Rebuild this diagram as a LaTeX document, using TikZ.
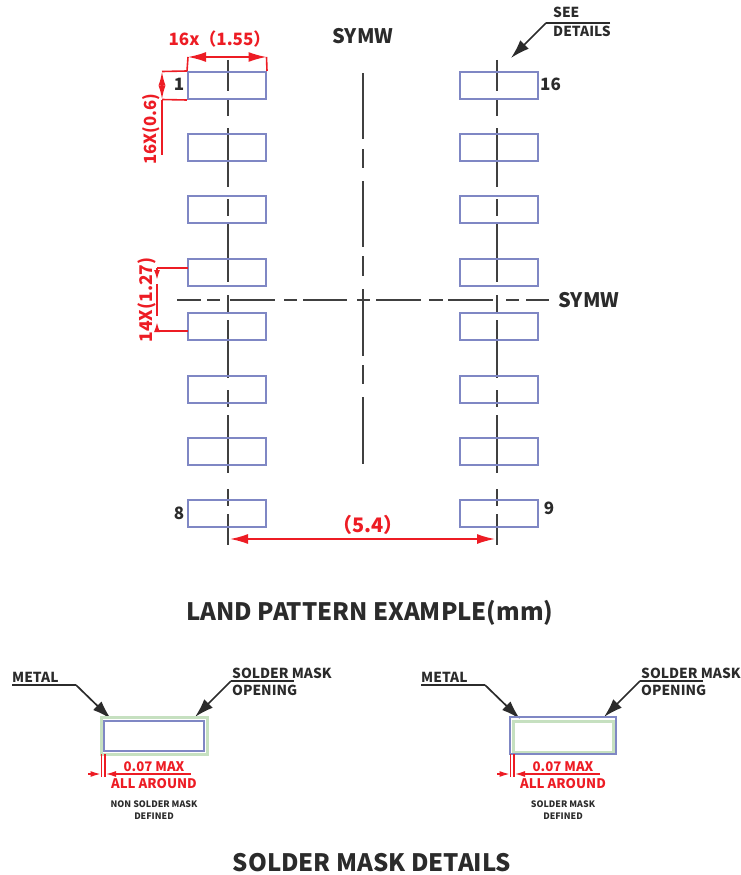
\documentclass[tikz,border=0pt]{standalone}
\usepackage{fontspec}
\setmainfont{Noto Sans CJK SC}
\usetikzlibrary{arrows.meta}
\definecolor{padblue}{HTML}{7F87C4}
\definecolor{dimred}{HTML}{ED1C24}
\definecolor{ink}{HTML}{2B2B2B}
\definecolor{maskgreen}{HTML}{C6E0C0}
\tikzset{
  padbox/.style={draw=padblue,line width=2pt,rectangle,inner sep=0pt,minimum width=78pt,minimum height=27pt},
  centerline/.style={draw=ink!90,line width=1.7pt},
  dimline/.style={draw=dimred,line width=1.6pt},
  bigdim/.style={dimline,{Latex[length=18pt,width=10pt]}-{Latex[length=18pt,width=10pt]}},
  smalltip/.style={dimline,-{Latex[length=10pt,width=6pt]}},
  leader/.style={draw=ink,line width=1.7pt},
  leadertip/.style={leader,-{Latex[length=19pt,width=12pt]}},
  lab/.style={inner sep=0pt,text=ink,font=\bfseries\fontsize{13.8}{14}\selectfont},
  redlab/.style={inner sep=0pt,text=dimred,font=\bfseries\fontsize{13.2}{14}\selectfont},
  rotlab/.style={inner sep=0pt,text=dimred,rotate=90,anchor=base,font=\bfseries\fontsize{17.5}{18}\selectfont},
  tinylab/.style={inner sep=0pt,text=ink,font=\bfseries\fontsize{8.9}{9}\selectfont},
  numlab/.style={inner sep=0pt,text=ink,font=\bfseries\fontsize{17}{17}\selectfont},
  symlab/.style={inner sep=0pt,text=ink,font=\bfseries\fontsize{20}{20}\selectfont},
  titlelab/.style={inner sep=0pt,text=ink,font=\bfseries\fontsize{24}{24}\selectfont},
}
\begin{document}
\begin{tikzpicture}[x=1pt,y=-1pt]
\useasboundingbox (0,0) rectangle (741,875);
% centre lines
\foreach \a/\b in {60/91,99/116,128/187,199/216,224/282,295/312,320/378,390/407,415/473,489/506,514/545}{
  \draw[centerline] (228,\a)--(228,\b);
  \draw[centerline] (497,\a)--(497,\b);
}
\foreach \a/\b in {73/139,149/168,181/247,256/276,289/356,365/384,397/464}{
  \draw[centerline] (363,\a)--(363,\b);
}
\foreach \a/\b in {177/201,207/220,230/275,284/297,303/347,357/370,376/421,429/443,448/493,506/519,526/549}{
  \draw[centerline,line width=2pt] (\a,300)--(\b,300);
}
% pads
\foreach \n/\y in {1/85.5,2/147.5,3/209.5,4/272,5/326.5,6/389,7/451,8/513.5}{
  \node[padbox] (l\n) at (227,\y) {};
  \node[padbox] (r\n) at (498.5,\y) {};
}
% pad numbers
\node[numlab,anchor=base] (n1) at (179,90) {1};
\node[numlab,anchor=base] (n16) at (550.5,90) {16};
\node[numlab,anchor=base] (n8) at (179,519) {8};
\node[numlab,anchor=base] (n9) at (549,514) {9};
% SYMW
\node[symlab,anchor=base] (s1) at (363,44) {SYMW};
\node[symlab,anchor=base] (s2) at (589,307) {SYMW};
% see details
\node[lab,anchor=base west] (see) at (553,18) {SEE};
\node[lab,anchor=base west] (det) at (553,37) {DETAILS};
\coordinate (seeEnd) at (610,23);
\coordinate (seeKnee) at (546,23);
\coordinate (seeTip) at (511,58);
\draw[leader] (seeEnd)--(seeKnee);
\draw[leadertip] (seeKnee)--(seeTip);
% 16x 1.55
\coordinate (wa) at (188,57);
\coordinate (wb) at (266.5,57);
\draw[dimline] (wa)--(l1.north west);
\draw[dimline] (wb)--(l1.north east);
\draw[bigdim] (wa)--(wb);
\node[redlab,anchor=base,font=\bfseries\fontsize{17}{17}\selectfont] (w) at (219.5,46) {16x（1.55）};
% 16X 0.6
\coordinate (ha) at (162,71.5);
\coordinate (hb) at (162,99.5);
\coordinate (hc) at (162,155);
\draw[dimline] (l1.north west)--(ha);
\draw[dimline] (l1.south west)--(hb);
\draw[dimline] (hb)--(hc);
\draw[dimline,{Latex[length=14pt,width=7pt]}-{Latex[length=14pt,width=7pt]}] (ha)--(hb);
\node[rotlab,font=\bfseries\fontsize{16.7}{17}\selectfont] (h) at (156,129) {16X(0.6)};
% 14X 1.27
\coordinate (pa) at (157,268);
\coordinate (pb) at (157,331);
\draw[dimline] (188,268)--(pa);
\draw[dimline] (188,331)--(pb);
\draw[smalltip] (pa)--(157,280);
\draw[smalltip] (pb)--(157,322);
\draw[dimline] (157,284)--(157,316);
\node[rotlab] (p) at (152,300) {14X(1.27)};
% 5.4
\coordinate (da) at (230,539);
\coordinate (db) at (495,539);
\draw[bigdim] (da)--(db);
\node[redlab,anchor=base,font=\bfseries\fontsize{20}{20}\selectfont] (d) at (368,532) {（5.4）};
% titles
\node[titlelab,anchor=base] (t1) at (370,620) {LAND PATTERN EXAMPLE(mm)};
\node[titlelab,anchor=base] (t2) at (372,871) {SOLDER MASK DETAILS};
% left detail
\node[lab,anchor=base west] (ma) at (12,682) {METAL};
\coordinate (maKnee) at (76,685);
\coordinate (maStart) at (12,685);
\coordinate (maTip) at (111,719);
\draw[leader] (maStart)--(maKnee);
\draw[leadertip] (maKnee)--(maTip);
\node[lab,anchor=base west] (oa) at (232,678) {SOLDER MASK};
\node[lab,anchor=base west] (ob) at (232,695) {OPENING};
\coordinate (oaEnd) at (294,681);
\coordinate (oaKnee) at (231,681);
\coordinate (oaTip) at (195,717);
\draw[leader] (oaEnd)--(oaKnee);
\draw[leadertip] (oaKnee)--(oaTip);
\node[rectangle,draw=maskgreen,line width=3pt,inner sep=0pt,minimum width=106pt,minimum height=37pt] (ga) at (154,735.5) {};
\node[padbox,minimum width=100pt,minimum height=30pt] (ba) at (154,736) {};
\coordinate (xa) at (101.5,777);
\coordinate (xb) at (105,777);
\draw[dimline,line width=1.2pt] (101.5,754)--(xa);
\draw[dimline,line width=1.2pt] (105,754)--(xb);
\draw[smalltip,line width=1.2pt] (88,774)--(100.5,774);
\draw[smalltip,line width=1.2pt] (191,774)--(106,774);
\node[redlab,anchor=base] (ra) at (154,771) {0.07 MAX};
\node[redlab,anchor=base] (rb) at (154,788) {ALL AROUND};
\node[tinylab,anchor=base] (ca) at (154,807) {NON SOLDER MASK};
\node[tinylab,anchor=base] (cb) at (154,819) {DEFINED};
% right detail
\node[lab,anchor=base west] (mc) at (421,682) {METAL};
\coordinate (mcStart) at (421,685);
\coordinate (mcKnee) at (485,685);
\coordinate (mcTip) at (520,719);
\draw[leader] (mcStart)--(mcKnee);
\draw[leadertip] (mcKnee)--(mcTip);
\node[lab,anchor=base west] (oc) at (641,678) {SOLDER MASK};
\node[lab,anchor=base west] (od) at (641,695) {OPENING};
\coordinate (ocEnd) at (703,681);
\coordinate (ocKnee) at (640,681);
\coordinate (ocTip) at (604,717);
\draw[leader] (ocEnd)--(ocKnee);
\draw[leadertip] (ocKnee)--(ocTip);
\node[rectangle,draw=maskgreen,line width=3pt,inner sep=0pt,minimum width=100pt,minimum height=31pt] (gc) at (563,736.5) {};
\node[padbox,minimum width=106pt,minimum height=37pt] (bc) at (563,735.5) {};
\coordinate (xc) at (510.5,777);
\coordinate (xd) at (514,777);
\draw[dimline,line width=1.2pt] (510.5,754)--(xc);
\draw[dimline,line width=1.2pt] (514,754)--(xd);
\draw[smalltip,line width=1.2pt] (497,774)--(509.5,774);
\draw[smalltip,line width=1.2pt] (600,774)--(515,774);
\node[redlab,anchor=base] (rc) at (563,771) {0.07 MAX};
\node[redlab,anchor=base] (rd) at (563,788) {ALL AROUND};
\node[tinylab,anchor=base] (cc) at (563,807) {SOLDER MASK};
\node[tinylab,anchor=base] (cd) at (563,819) {DEFINED};
\end{tikzpicture}
\end{document}
